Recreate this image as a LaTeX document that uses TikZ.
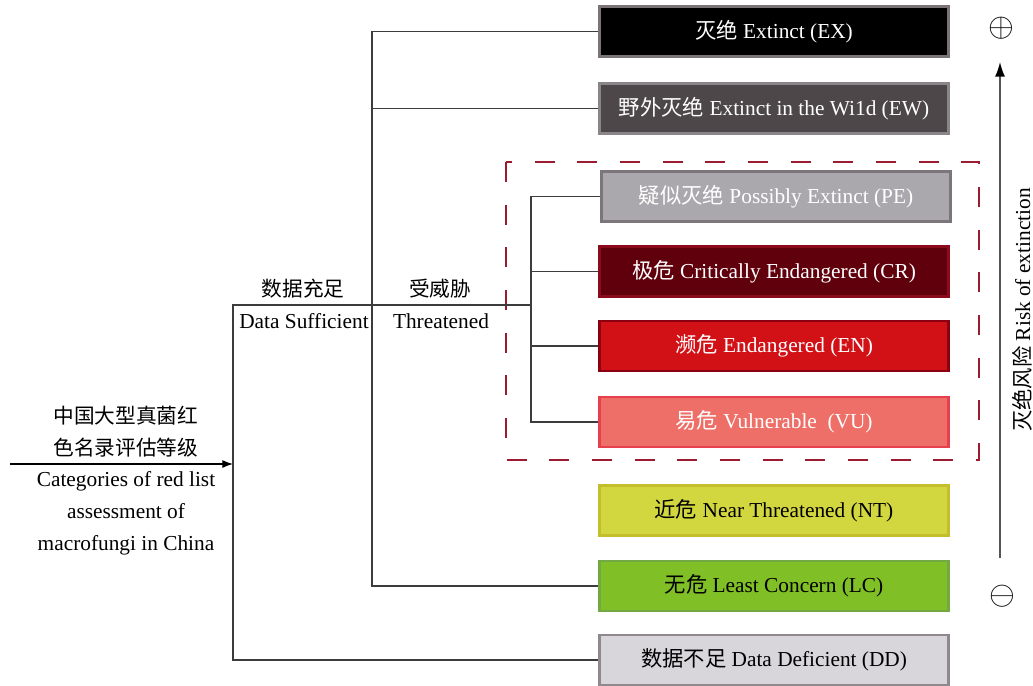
\documentclass[tikz,border=0pt]{standalone}
\usepackage{fontspec}
\setmainfont{Liberation Serif}
\newfontfamily\cjk{Noto Sans CJK SC}
\usepackage{xcolor}
\usetikzlibrary{arrows.meta}

\definecolor{linegray}{HTML}{3C3C3C}
\definecolor{axisgray}{HTML}{555555}
\definecolor{dashred}{HTML}{9B1B30}
\definecolor{exfill}{HTML}{000000}
\definecolor{exedge}{HTML}{7A7477}
\definecolor{ewfill}{HTML}{4E4749}
\definecolor{ewedge}{HTML}{8A8588}
\definecolor{pefill}{HTML}{ABA8AD}
\definecolor{peedge}{HTML}{7B767A}
\definecolor{crfill}{HTML}{5F000C}
\definecolor{credge}{HTML}{8B0A1C}
\definecolor{enfill}{HTML}{D21116}
\definecolor{enedge}{HTML}{8B0010}
\definecolor{vufill}{HTML}{EE6F68}
\definecolor{vuedge}{HTML}{E5404C}
\definecolor{ntfill}{HTML}{D3D73F}
\definecolor{ntedge}{HTML}{C4BD2C}
\definecolor{lcfill}{HTML}{80BF25}
\definecolor{lcedge}{HTML}{74A845}
\definecolor{ddfill}{HTML}{D8D6DA}
\definecolor{ddedge}{HTML}{8F898E}

\begin{document}
\begin{tikzpicture}[x=0.75pt,y=-0.75pt,
    catbox/.style={minimum width=262pt, minimum height=37.5pt, inner sep=0pt,
        line width=2.2pt, font=\fontsize{16}{19}\selectfont},
    conn/.style={draw=linegray, line width=1.3pt},
    lbl/.style={font=\fontsize{16}{19}\selectfont}]
    \useasboundingbox (0,0) rectangle (1033,686);

    % category boxes, top to bottom
    \foreach \name/\x/\y/\fc/\dc/\tc/\cn/\en in {
        EX/774/31.5/exfill/exedge/white/灭绝/Extinct (EX),
        EW/774/108.5/ewfill/ewedge/white/野外灭绝/Extinct in the Wi1d (EW),
        PE/776/196.5/pefill/peedge/white/疑似灭绝/Possibly Extinct (PE),
        CR/774/271.5/crfill/credge/white/极危/Critically Endangered (CR),
        EN/774/346/enfill/enedge/white/濒危/Endangered (EN),
        VU/774/422/vufill/vuedge/white/易危/Vulnerable~~(VU),
        NT/774/510.5/ntfill/ntedge/black/近危/Near Threatened (NT),
        LC/774/586/lcfill/lcedge/black/无危/Least Concern (LC),
        DD/774/660/ddfill/ddedge/black/数据不足/Data Deficient (DD)} {
        \node[catbox, fill=\fc, draw=\dc, text=\tc] (\name) at (\x,\y) {{\cjk \cn} \en};
    }

    % threatened group
    \draw[dashred, line width=1.1pt, dash pattern=on 15pt off 17pt] (506,162) rectangle (979,460);

    % tree
    \coordinate (in) at (10,464);
    \coordinate (root) at (233,464);
    \coordinate (rootTop) at (233,305);
    \coordinate (suf) at (372,305);
    \coordinate (thr) at (531,305);
    \draw[-{Latex[length=8pt,width=6pt]}, line width=0.9pt] (in) -- (root);
    \draw[conn] (DD.west) -| (rootTop) -- (thr);
    \draw[conn] (EX.west) -| (suf) |- (LC.west);
    \draw[conn] (EW.west) -- (EW.west -| suf);
    \draw[conn] (PE.west) -| (thr) |- (VU.west);
    \draw[conn] (CR.west) -- (CR.west -| thr);
    \draw[conn] (EN.west) -- (EN.west -| thr);

    % branch labels
    \node[lbl, font=\cjk\fontsize{15.5}{19}\selectfont] (sufcn) at (303,289) {数据充足};
    \node[lbl] (sufen) at (304,321) {Data Sufficient};
    \node[lbl, font=\cjk\fontsize{15.5}{19}\selectfont] (thrcn) at (440,289) {受威胁};
    \node[lbl] (thren) at (441,321) {Threatened};

    % root label
    \node[align=center, font=\cjk\fontsize{15.5}{24}\selectfont] (rootcn) at (126,432)
        {中国大型真菌红\\色名录评估等级};
    \node[align=center, font=\fontsize{16}{24}\selectfont] (rooten) at (126,513)
        {Categories of red list\\assessment of\\macrofungi in China};

    % risk axis
    \coordinate (lo) at (1000,558);
    \coordinate (hi) at (1000,62);
    \draw[axisgray, line width=1.1pt, -{Latex[length=11pt,width=7.5pt,black]}] (lo) -- (hi);
    \node (plus) at (1001,28) {\fontsize{24}{24}\selectfont$\oplus$};
    \node (minus) at (1002,596) {\fontsize{24}{24}\selectfont$\ominus$};
    \node[lbl, rotate=90] (risk) at (1022,310) {{\cjk 灭绝风险} Risk of extinction};

\end{tikzpicture}
\end{document}
